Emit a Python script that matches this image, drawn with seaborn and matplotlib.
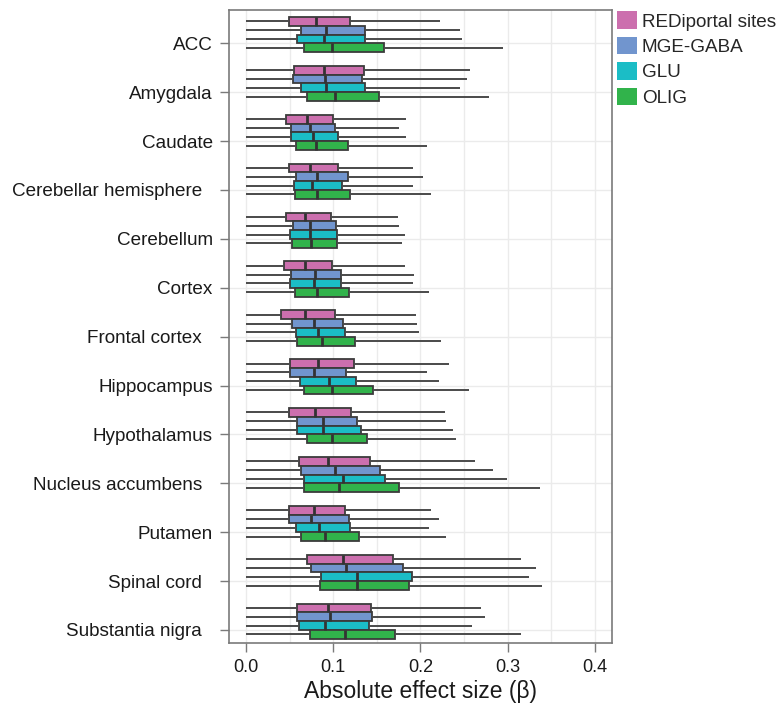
import numpy as np
import pandas as pd
import matplotlib
matplotlib.use("Agg")
import matplotlib.pyplot as plt
from matplotlib.patches import Patch
import seaborn as sns

# Tissues (top to bottom) and cell-type groups
tissues = ["ACC", "Amygdala", "Caudate", "Cerebellar hemisphere", "Cerebellum",
           "Cortex", "Frontal cortex", "Hippocampus", "Hypothalamus",
           "Nucleus accumbens", "Putamen", "Spinal cord", "Substantia nigra"]
tick_labels = ["ACC", "Amygdala", "Caudate", "Cerebellar hemisphere  ", "Cerebellum",
               "Cortex", "Frontal cortex  ", "Hippocampus", "Hypothalamus",
               "Nucleus accumbens  ", "Putamen", "Spinal cord  ", "Substantia nigra  "]
groups = ["REDiportal sites", "MGE-GABA", "GLU", "OLIG"]
colors = ["#CC6FAE", "#7195CE", "#1BBDC6", "#31B34B"]

# Summary statistics of |beta| per tissue: lower quartile, median, upper quartile, maximum
redi_q1 = [0.049, 0.055, 0.046, 0.049, 0.046, 0.044, 0.040, 0.051, 0.049, 0.061, 0.049, 0.070, 0.058]
redi_med = [0.080, 0.090, 0.070, 0.073, 0.068, 0.068, 0.068, 0.083, 0.079, 0.094, 0.078, 0.111, 0.094]
redi_q3 = [0.119, 0.135, 0.100, 0.106, 0.097, 0.099, 0.102, 0.124, 0.120, 0.142, 0.114, 0.169, 0.143]
redi_max = [0.223, 0.257, 0.183, 0.192, 0.174, 0.182, 0.195, 0.233, 0.228, 0.263, 0.212, 0.316, 0.270]

gaba_q1 = [0.063, 0.054, 0.052, 0.057, 0.054, 0.052, 0.053, 0.051, 0.059, 0.063, 0.049, 0.075, 0.059]
gaba_med = [0.092, 0.091, 0.073, 0.081, 0.073, 0.079, 0.078, 0.078, 0.088, 0.102, 0.075, 0.115, 0.096]
gaba_q3 = [0.137, 0.133, 0.102, 0.117, 0.103, 0.109, 0.111, 0.115, 0.127, 0.154, 0.118, 0.180, 0.145]
gaba_max = [0.246, 0.254, 0.176, 0.203, 0.175, 0.193, 0.196, 0.208, 0.229, 0.283, 0.221, 0.333, 0.274]

glu_q1 = [0.058, 0.063, 0.052, 0.055, 0.051, 0.051, 0.057, 0.062, 0.059, 0.066, 0.057, 0.086, 0.061]
glu_med = [0.089, 0.092, 0.077, 0.076, 0.073, 0.078, 0.083, 0.095, 0.088, 0.111, 0.084, 0.127, 0.091]
glu_q3 = [0.137, 0.137, 0.105, 0.110, 0.104, 0.109, 0.114, 0.126, 0.132, 0.160, 0.119, 0.190, 0.141]
glu_max = [0.248, 0.246, 0.183, 0.191, 0.182, 0.191, 0.198, 0.221, 0.238, 0.299, 0.210, 0.325, 0.259]

olig_q1 = [0.067, 0.070, 0.057, 0.056, 0.053, 0.056, 0.058, 0.067, 0.070, 0.067, 0.063, 0.085, 0.073]
olig_med = [0.099, 0.102, 0.080, 0.082, 0.075, 0.082, 0.087, 0.099, 0.099, 0.107, 0.091, 0.127, 0.114]
olig_q3 = [0.158, 0.153, 0.117, 0.119, 0.104, 0.118, 0.125, 0.146, 0.139, 0.176, 0.130, 0.187, 0.171]
olig_max = [0.295, 0.279, 0.208, 0.212, 0.179, 0.210, 0.224, 0.256, 0.241, 0.337, 0.229, 0.339, 0.315]

beta_min = 0.0

stats = {
    "REDiportal sites": (redi_q1, redi_med, redi_q3, redi_max),
    "MGE-GABA": (gaba_q1, gaba_med, gaba_q3, gaba_max),
    "GLU": (glu_q1, glu_med, glu_q3, glu_max),
    "OLIG": (olig_q1, olig_med, olig_q3, olig_max),
}

# Five-number samples reproduce each box exactly (quartiles fall on sample points)
rows = []
for g in groups:
    q1s, meds, q3s, maxs = stats[g]
    for i, t in enumerate(tissues):
        for v in (beta_min, q1s[i], meds[i], q3s[i], maxs[i]):
            rows.append({"tissue": t, "group": g, "beta": v})
df = pd.DataFrame(rows)

sns.set_theme(style="white")
plt.rcParams["font.family"] = ["Liberation Sans", "DejaVu Sans"]

fig = plt.figure(figsize=(7.81, 7.06), dpi=100)
ax = fig.add_axes([0.2932, 0.0892, 0.4904, 0.8966])

edge = "#3b3b3b"
sns.boxplot(
    data=df, x="beta", y="tissue", hue="group",
    order=tissues, hue_order=groups, palette=colors, saturation=1,
    whis=np.inf, width=0.72, gap=0.0, linewidth=1.3, linecolor=edge,
    showcaps=False, showfliers=False,
    whiskerprops=dict(color="#4a4a4a", linewidth=1.4),
    medianprops=dict(color="#333333", linewidth=2.0),
    legend=False, ax=ax,
)

ax.set_xlim(-0.0195, 0.4198)
ax.set_ylim(12.446, -0.503)
ax.set_yticks(np.arange(len(tissues)) + 0.178)
ax.set_yticklabels(tick_labels)
ax.set_xticks([0.0, 0.1, 0.2, 0.3, 0.4])
ax.set_xticklabels(["0.0", "0.1", "0.2", "0.3", "0.4"])
ax.set_xticks([0.05, 0.15, 0.25, 0.35], minor=True)

ax.set_axisbelow(True)
ax.grid(axis="x", which="both", color="#EBEBEB", linewidth=1.0)
ax.grid(axis="y", which="major", color="#EBEBEB", linewidth=1.0)

for s in ax.spines.values():
    s.set_visible(True)
    s.set_color("#7a7a7a")
    s.set_linewidth(1.2)

ax.tick_params(axis="y", which="major", length=6.2, width=1.0, color="#7a7a7a",
               labelsize=13.6, labelcolor="#1a1a1a", pad=5.5, left=True)
ax.tick_params(axis="x", which="major", length=6.5, width=1.0, color="#7a7a7a",
               labelsize=13.1, labelcolor="#1a1a1a", pad=5, bottom=True)
ax.tick_params(axis="x", which="minor", length=0)

ax.set_ylabel("")
ax.set_xlabel("Absolute effect size (\u03b2)", fontsize=16.5, color="#1a1a1a", labelpad=3)

handles = [Patch(facecolor=c, edgecolor="none") for c in colors]
fig.legend(handles=handles, labels=groups, loc="upper left",
           bbox_to_anchor=(0.790, 0.984), frameon=False, borderpad=0,
           borderaxespad=0, handlelength=1.06, handleheight=1.05,
           handletextpad=0.26, labelspacing=0.33, fontsize=13.6)

fig.savefig("out.png", dpi=100)
